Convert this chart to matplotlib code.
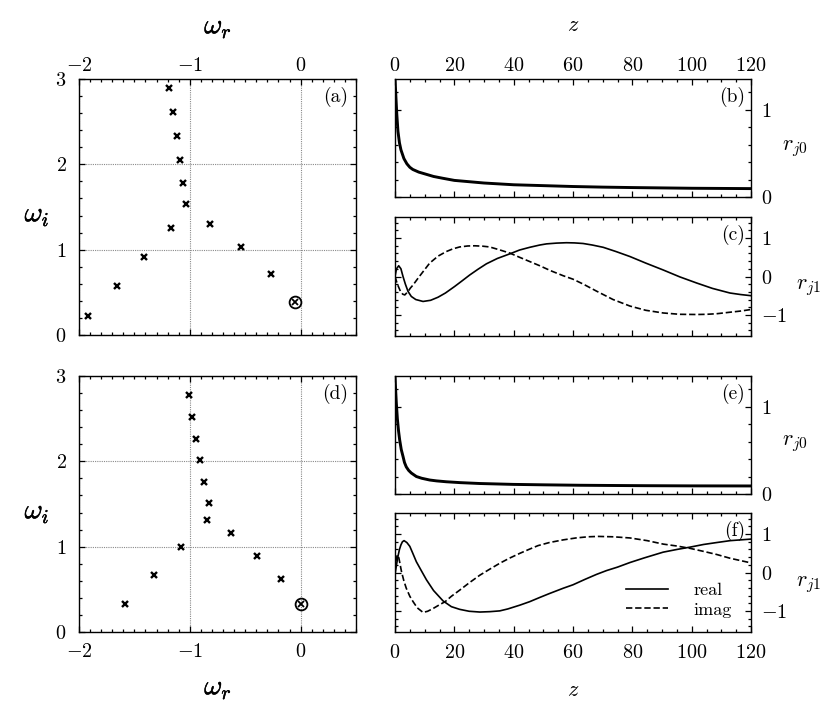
import matplotlib
matplotlib.use('Agg')
import matplotlib.pyplot as plt
import matplotlib.patheffects as pe
from matplotlib.ticker import MultipleLocator

plt.rcParams.update({
    'font.family': 'serif',
    'font.serif': ['cmr10', 'DejaVu Serif'],
    'mathtext.fontset': 'cm',
    'axes.formatter.use_mathtext': True,
    'axes.unicode_minus': True,
    'font.size': 14.5,
})

# ---- data: panel (a) eigenvalues ----
a_wr = [-1.19, -1.153, -1.12, -1.09, -1.06, -1.03, -1.174, -0.822, -0.537, -0.267, -1.41, -1.66, -1.92]
a_wi = [2.90, 2.61, 2.33, 2.05, 1.78, 1.53, 1.25, 1.30, 1.03, 0.72, 0.91, 0.57, 0.22]
a_sel_wr = [-0.048]
a_sel_wi = [0.39]

# ---- data: panel (d) eigenvalues ----
d_wr = [-1.005, -0.976, -0.94, -0.906, -0.870, -0.83, -0.847, -0.627, -0.393, -0.174, -1.075, -1.327, -1.588]
d_wi = [2.78, 2.52, 2.26, 2.01, 1.76, 1.51, 1.31, 1.16, 0.89, 0.62, 1.00, 0.665, 0.33]
d_sel_wr = [0.0]
d_sel_wi = [0.33]

# ---- data: panel (b) r_j0 ----
b_z = [0, 0.3, 0.6, 1.0, 1.5, 2, 3, 4, 5, 6, 8, 10, 13, 16, 20, 25, 30, 40, 50, 60, 70, 80, 90, 100, 110, 120]
b_r = [1.35, 1.15, 0.95, 0.75, 0.62, 0.54, 0.44, 0.38, 0.34, 0.315, 0.285, 0.265, 0.235, 0.215, 0.19,
       0.175, 0.16, 0.14, 0.13, 0.12, 0.113, 0.108, 0.104, 0.10, 0.098, 0.096]

# ---- data: panel (c) r_j1 ----
c_z_re = [0, 0.5, 1.25, 2, 2.7, 3.5, 4.4, 5.5, 7, 9.45, 12, 14.5, 17, 20.1, 22.5, 25.2, 28, 30.8, 34.5,
          38.7, 42, 45.4, 48.8, 51.1, 54.5, 57.8, 60.5, 63.4, 66.5, 70.2, 74.5, 79.2, 84.5, 90.4, 96,
          101.7, 107, 112.9, 116.5, 120]
c_re = [0.0, 0.2, 0.28, 0.2, 0.0, -0.2, -0.39, -0.52, -0.6, -0.65, -0.62, -0.54, -0.43, -0.26, -0.12,
        0.04, 0.19, 0.33, 0.47, 0.59, 0.69, 0.76, 0.82, 0.85, 0.87, 0.88, 0.875, 0.86, 0.82, 0.76, 0.65,
        0.52, 0.35, 0.17, -0.01, -0.17, -0.31, -0.43, -0.47, -0.5]
c_z_im = [0, 0.8, 1.8, 2.6, 3.3, 4.4, 5.2, 6.1, 8, 10, 11.7, 14.5, 17.3, 19.5, 21.8, 24.5, 26.9, 29.5,
          31.9, 35, 38.7, 42, 45.4, 48.8, 52.5, 56.7, 60, 63.5, 67.9, 73.5, 79.2, 84.5, 90.4, 96, 101.7,
          105, 108.4, 113, 116.5, 120]
c_im = [0.0, -0.2, -0.38, -0.46, -0.48, -0.39, -0.3, -0.22, -0.02, 0.18, 0.35, 0.53, 0.65, 0.72, 0.77,
        0.795, 0.8, 0.79, 0.77, 0.7, 0.61, 0.5, 0.39, 0.28, 0.15, 0.02, -0.07, -0.2, -0.38, -0.6, -0.77,
        -0.88, -0.95, -0.985, -0.99, -0.985, -0.97, -0.93, -0.9, -0.86]

# ---- data: panel (e) r_j0 ----
e_z = [0, 0.2, 0.45, 0.8, 1.2, 1.57, 2.1, 2.7, 3.2, 3.8, 4.6, 5.5, 7.2, 9, 11.7, 14, 17.3, 22, 28.6,
       39.8, 50, 62.3, 75, 84.8, 100, 120]
e_r = [1.35, 1.2, 1.04, 0.86, 0.72, 0.62, 0.51, 0.43, 0.36, 0.31, 0.27, 0.24, 0.2, 0.18, 0.16, 0.15,
       0.14, 0.13, 0.12, 0.11, 0.105, 0.10, 0.097, 0.095, 0.093, 0.092]

# ---- data: panel (f) r_j1 ----
f_z_re = [0, 0.5, 1, 1.5, 2, 2.5, 3.05, 4, 5, 6, 7.2, 9, 10.6, 13, 16.2, 19, 21.8, 25, 28.6, 32, 35.3,
          38, 42.1, 45.4, 48.8, 52, 56.7, 60, 64, 67.9, 71.3, 75, 79.2, 84, 90.4, 95, 99.4, 104, 108.4,
          113, 120]
f_re = [-0.05, 0.2, 0.42, 0.6, 0.72, 0.8, 0.83, 0.78, 0.68, 0.5, 0.28, 0.03, -0.19, -0.47, -0.74, -0.89,
        -0.96, -1.01, -1.03, -1.02, -1.0, -0.95, -0.85, -0.76, -0.65, -0.55, -0.41, -0.32, -0.18, -0.05,
        0.05, 0.14, 0.26, 0.38, 0.53, 0.6, 0.66, 0.73, 0.78, 0.83, 0.87]
f_z_im = [0, 0.4, 0.8, 1.3, 2.2, 3, 3.8, 5, 6.1, 7.5, 9.45, 11, 12.8, 15, 16.9, 19, 21.8, 25, 28.6, 32,
          35.3, 38.5, 42.1, 45.4, 48.2, 52, 56.7, 61, 65, 68.5, 73.6, 79.2, 85, 90.4, 95, 99.4, 104,
          108.4, 113, 120]
f_im = [0.05, 0.35, 0.46, 0.38, 0.02, -0.22, -0.41, -0.62, -0.76, -0.92, -1.04, -1.01, -0.94, -0.84,
        -0.76, -0.62, -0.46, -0.27, -0.07, 0.09, 0.24, 0.37, 0.5, 0.61, 0.7, 0.78, 0.85, 0.9, 0.93, 0.94,
        0.93, 0.9, 0.83, 0.74, 0.69, 0.63, 0.55, 0.47, 0.37, 0.25]

W, H = 830, 712
fig = plt.figure(figsize=(W / 100, H / 100), dpi=100)


def add_ax(x0, y0, x1, y1):
    return fig.add_axes([x0 / W, 1 - y1 / H, (x1 - x0) / W, (y1 - y0) / H])


def style(ax):
    for s in ax.spines.values():
        s.set_linewidth(1.0)
    ax.tick_params(which='both', direction='in', top=True, bottom=True, left=True, right=True,
                   width=0.9, pad=7, labelsize=14.5)
    ax.tick_params(which='major', length=4.5)
    ax.tick_params(which='minor', length=2.4)


def panel_label(ax, txt, dx=-5.5, dy=-6):
    ax.annotate(txt, xy=(1, 1), xycoords='axes fraction', xytext=(dx, dy),
                textcoords='offset points', ha='right', va='top', fontsize=14)


def eig_panel(ax, wr, wi, swr, swi, lab, top):
    ax.set_xlim(-2, 0.5)
    ax.set_ylim(0, 3)
    ax.xaxis.set_major_locator(MultipleLocator(1))
    ax.xaxis.set_minor_locator(MultipleLocator(0.1))
    ax.yaxis.set_major_locator(MultipleLocator(1))
    ax.yaxis.set_minor_locator(MultipleLocator(0.2))
    ax.grid(True, which='major', color='#8a8a8a', linestyle=(0, (1, 1)), linewidth=0.8)
    ax.set_axisbelow(True)
    ax.plot(wr, wi, linestyle='none', marker='x', color='black', markersize=5.0, markeredgewidth=1.7)
    ax.plot(swr, swi, linestyle='none', marker='o', markerfacecolor='none', markeredgecolor='black',
            markersize=8.5, markeredgewidth=1.3)
    ax.plot(swr, swi, linestyle='none', marker='x', color='black', markersize=4.8, markeredgewidth=1.3)
    style(ax)
    ax.tick_params(labeltop=top, labelbottom=not top)
    ax.tick_params(axis='x', pad=(3 if top else 8))
    ax.tick_params(axis='y', pad=9)
    panel_label(ax, lab)


def r0_panel(ax, z, r, lab, top):
    ax.plot(z, r, color='black', linewidth=2.1)
    ax.set_xlim(0, 120)
    ax.set_ylim(0, 1.35)
    ax.xaxis.set_major_locator(MultipleLocator(20))
    ax.xaxis.set_minor_locator(MultipleLocator(5))
    ax.yaxis.set_major_locator(MultipleLocator(1))
    ax.yaxis.set_minor_locator(MultipleLocator(0.2))
    style(ax)
    ax.tick_params(labelleft=False, labelright=True, labeltop=top, labelbottom=False)
    ax.tick_params(axis='x', pad=3)
    panel_label(ax, lab, dx=-4.5)


def r1_panel(ax, zr, re, zi, im, lab, bottom):
    l1, = ax.plot(zr, re, color='black', linewidth=1.2, label='real')
    l2, = ax.plot(zi, im, color='black', linewidth=1.2, dashes=(3.8, 1.7), label='imag')
    ax.set_xlim(0, 120)
    ax.set_ylim(-1.55, 1.55)
    ax.xaxis.set_major_locator(MultipleLocator(20))
    ax.xaxis.set_minor_locator(MultipleLocator(5))
    ax.yaxis.set_major_locator(MultipleLocator(1))
    ax.yaxis.set_minor_locator(MultipleLocator(0.2))
    style(ax)
    ax.tick_params(labelleft=False, labelright=True, labeltop=False, labelbottom=bottom)
    ax.tick_params(axis='x', pad=9)
    panel_label(ax, lab, dx=-4.5)
    return l1, l2


ax_a = add_ax(79, 79, 356, 335)
ax_d = add_ax(79, 376, 356, 632)
ax_b = add_ax(395, 79, 751, 197)
ax_c = add_ax(395, 217, 751, 336)
ax_e = add_ax(395, 376, 751, 494)
ax_f = add_ax(395, 513, 751, 632)

eig_panel(ax_a, a_wr, a_wi, a_sel_wr, a_sel_wi, '(a)', True)
eig_panel(ax_d, d_wr, d_wi, d_sel_wr, d_sel_wi, '(d)', False)
r0_panel(ax_b, b_z, b_r, '(b)', True)
r0_panel(ax_e, e_z, e_r, '(e)', False)
r1_panel(ax_c, c_z_re, c_re, c_z_im, c_im, '(c)', False)
lf1, lf2 = r1_panel(ax_f, f_z_re, f_re, f_z_im, f_im, '(f)', True)

leg = ax_f.legend(handles=[lf1, lf2], loc='lower right', bbox_to_anchor=(0.947, 0.12),
                  frameon=False, fontsize=13, handlelength=2.3, handletextpad=1.45,
                  labelspacing=0.2, borderpad=0, borderaxespad=0)


def ftext(x, y, s, size, bold=False):
    t = fig.text(x / W, 1 - y / H, s, ha='center', va='center', fontsize=size)
    if bold:
        t.set_path_effects([pe.withStroke(linewidth=0.35, foreground='black')])


ftext(218, 27, r'$\omega_r$', 20, True)
ftext(218, 688, r'$\omega_r$', 20, True)
ftext(37, 215, r'$\omega_i$', 20, True)
ftext(37, 512, r'$\omega_i$', 20, True)
ftext(573, 25, r'$z$', 16)
ftext(573, 690, r'$z$', 16)
ftext(795, 149, r'$r_{j0}$', 16)
ftext(808, 288, r'$r_{j1}$', 16)
ftext(795, 444, r'$r_{j0}$', 16)
ftext(808, 585, r'$r_{j1}$', 16)

fig.savefig('out.png', dpi=100)
